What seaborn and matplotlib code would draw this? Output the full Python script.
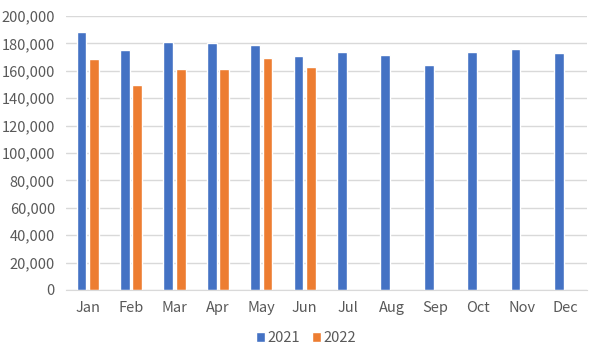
import pandas as pd
import numpy as np
import seaborn as sns
import matplotlib.pyplot as plt
from matplotlib.ticker import FuncFormatter

months = ["Jan", "Feb", "Mar", "Apr", "May", "Jun", "Jul", "Aug", "Sep", "Oct", "Nov", "Dec"]
vals_2021 = [188000, 175000, 181000, 180000, 178800, 171000, 173500, 171500, 164500, 173500, 176000, 172800]
vals_2022 = [168500, 150000, 161500, 161500, 169500, 162500, np.nan, np.nan, np.nan, np.nan, np.nan, np.nan]

df = pd.DataFrame({
    "month": months * 2,
    "value": vals_2021 + vals_2022,
    "year": ["2021"] * 12 + ["2022"] * 12,
})

sns.set_style("white")
plt.rcParams['font.family'] = ['Noto Sans CJK SC', 'DejaVu Sans']

fig = plt.figure(figsize=(6, 3.57), dpi=100)
ax = fig.add_axes([0.11, 0.188, 0.868, 0.767])

# grid behind bars
ax.set_axisbelow(True)
ax.yaxis.grid(True, color="#d9d9d9", linewidth=1)

sns.barplot(data=df, x="month", y="value", hue="year", order=months,
            palette={"2021": "#4472C4", "2022": "#ED7D31"},
            width=0.567, gap=0.21, errorbar=None, ax=ax, saturation=1)

ax.set_ylim(0, 200000)
ax.set_yticks(range(0, 200001, 20000))
ax.yaxis.set_major_formatter(FuncFormatter(lambda v, p: f"{int(v):,}"))
ax.set_xlim(-0.5, 11.5)
ax.set_xlabel("")
ax.set_ylabel("")

for s in ["top", "right", "left"]:
    ax.spines[s].set_visible(False)
ax.spines["bottom"].set_color("#d9d9d9")
ax.tick_params(axis="both", length=0, labelsize=10.5, colors="#595959", pad=8)

ax.legend_.remove()
handles, labels = ax.get_legend_handles_labels()
fig.legend(handles, labels, loc="center", bbox_to_anchor=(0.51, 0.053), ncol=2,
           frameon=False, fontsize=10.5, handlelength=0.6, handleheight=0.6,
           handletextpad=0.2, columnspacing=0.8, labelcolor="#595959")

plt.savefig("out.png", dpi=100)
